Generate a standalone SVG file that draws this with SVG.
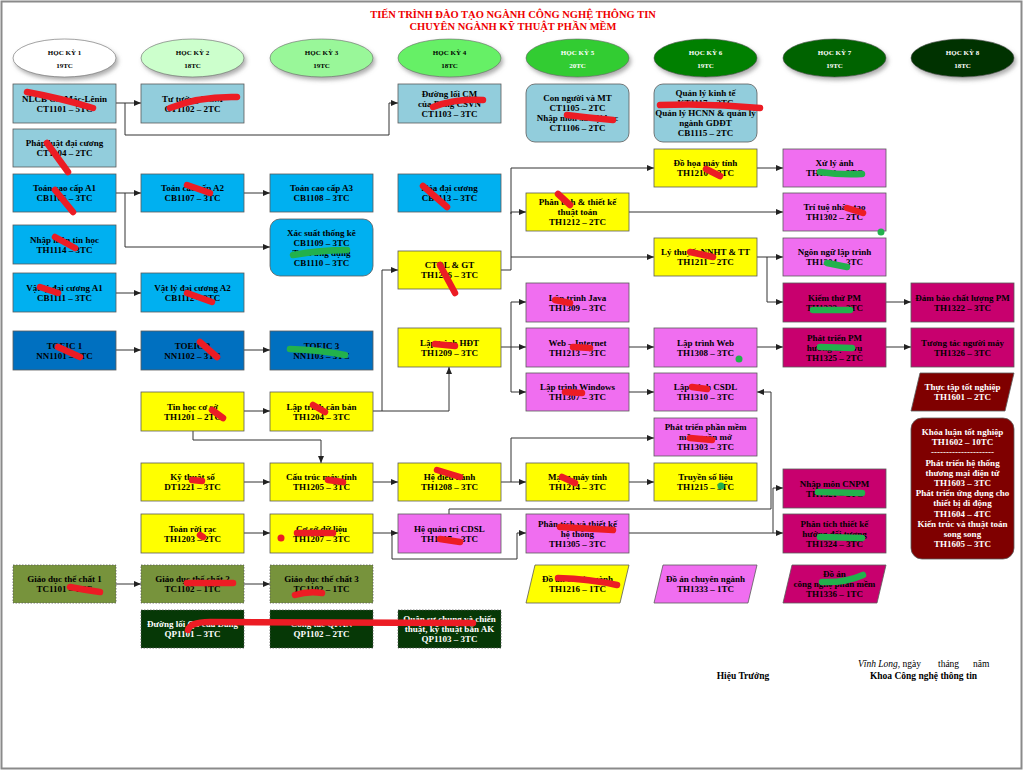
<svg xmlns="http://www.w3.org/2000/svg" width="1024" height="771" viewBox="0 0 1024 771">
<style>
.t{font-family:"Liberation Serif","Times New Roman",serif;font-weight:bold;font-size:9px;text-anchor:middle;fill:#000}
.h{font-size:7px}
.w{fill:#fff}
.bx{stroke:#5a5a5a;stroke-width:0.8}
.ct{fill:#92cddc}.cb{fill:#00b0f0}.nn{fill:#0070c0}.y{fill:#ffff00}.p{fill:#f06ef0}.m{fill:#c8006e}.dr{fill:#7f0000}.ol{fill:#77933c;stroke-dasharray:1.5 1.5}.qp{fill:#063806;stroke-dasharray:1.5 1.5}
.c{fill:none;stroke:#333;stroke-width:1;marker-end:url(#ar)}
.sr{fill:none;stroke:#ec1c24;stroke-width:6.5;stroke-linecap:round;stroke-linejoin:round}
.sg{fill:none;stroke:#22b14c;stroke-width:6.5;stroke-linecap:round;stroke-linejoin:round}
</style>
<defs>
<marker id="ar" markerUnits="userSpaceOnUse" markerWidth="7" markerHeight="6" refX="7" refY="3" orient="auto"><path d="M0,0 L7,3 L0,6 z" fill="#222"/></marker>
<filter id="sh" x="-20%" y="-20%" width="140%" height="160%"><feDropShadow dx="2" dy="3" stdDeviation="2" flood-color="#777" flood-opacity="0.6"/></filter>
</defs>
<rect x="0" y="0" width="1024" height="771" fill="#fff"/>
<rect x="1.5" y="1.5" width="1020" height="767" fill="none" stroke="#8a8a8a" stroke-width="2"/>
<g id="title" font-family="Liberation Serif, serif" font-weight="bold" font-size="10.5" fill="#e00" text-anchor="middle">
<text x="513" y="18">TIẾN TRÌNH ĐÀO TẠO NGÀNH CÔNG NGHỆ THÔNG TIN</text>
<text x="513" y="30">CHUYÊN NGÀNH KỸ THUẬT PHẦN MỀM</text>
</g>
<g id="semesters">
<g id="hk1"><ellipse cx="64.5" cy="58" rx="51.5" ry="19" fill="#fff" stroke="#666" stroke-width="0.6" filter="url(#sh)"/><text class="t h" x="64.5" y="54.5">HỌC KỲ 1</text><text class="t h" x="64.5" y="67.5">19TC</text></g>
<g id="hk2"><ellipse cx="192.5" cy="58" rx="51.5" ry="19" fill="#ccffcc" stroke="#666" stroke-width="0.6" filter="url(#sh)"/><text class="t h" x="192.5" y="54.5">HỌC KỲ 2</text><text class="t h" x="192.5" y="67.5">18TC</text></g>
<g id="hk3"><ellipse cx="321.5" cy="58" rx="51.5" ry="19" fill="#99f799" stroke="#666" stroke-width="0.6" filter="url(#sh)"/><text class="t h" x="321.5" y="54.5">HỌC KỲ 3</text><text class="t h" x="321.5" y="67.5">19TC</text></g>
<g id="hk4"><ellipse cx="449.5" cy="58" rx="51.5" ry="19" fill="#66f066" stroke="#666" stroke-width="0.6" filter="url(#sh)"/><text class="t h" x="449.5" y="54.5">HỌC KỲ 4</text><text class="t h" x="449.5" y="67.5">18TC</text></g>
<g id="hk5"><ellipse cx="577.5" cy="58" rx="51.5" ry="19" fill="#33cc33" stroke="#666" stroke-width="0.6" filter="url(#sh)"/><text class="t h w" x="577.5" y="54.5">HỌC KỲ 5</text><text class="t h w" x="577.5" y="67.5">20TC</text></g>
<g id="hk6"><ellipse cx="705.5" cy="58" rx="51.5" ry="19" fill="#008000" stroke="#555" stroke-width="0.6" filter="url(#sh)"/><text class="t h w" x="705.5" y="54.5">HỌC KỲ 6</text><text class="t h w" x="705.5" y="67.5">19TC</text></g>
<g id="hk7"><ellipse cx="834.5" cy="58" rx="51.5" ry="19" fill="#006400" stroke="#555" stroke-width="0.6" filter="url(#sh)"/><text class="t h w" x="834.5" y="54.5">HỌC KỲ 7</text><text class="t h w" x="834.5" y="67.5">19TC</text></g>
<g id="hk8"><ellipse cx="962.5" cy="58" rx="51.5" ry="19" fill="#003300" stroke="#555" stroke-width="0.6" filter="url(#sh)"/><text class="t h w" x="962.5" y="54.5">HỌC KỲ 8</text><text class="t h w" x="962.5" y="67.5">18TC</text></g>
</g>
<g id="connectors">
<path class="c" d="M116,103 H141"/>
<path class="c" d="M125,103 V135 H389 V103 H398"/>
<path class="c" d="M116,193 H141"/>
<path class="c" d="M125,193 V247 H270"/>
<path class="c" d="M244,193 H270"/>
<path class="c" d="M116,293 H141"/>
<path class="c" d="M116,350 H141"/>
<path class="c" d="M244,350 H270"/>
<path class="c" d="M244,411 H270"/>
<path class="c" d="M193,431 V440 H321 V463"/>
<path class="c" d="M372,411 H449 V367"/>
<path class="c" d="M382,411 V270 H398"/>
<path class="c" d="M501,270 H511 V212 H526"/>
<path class="c" d="M511,257 H654"/>
<path class="c" d="M511,214 V168 H654"/>
<path class="c" d="M757,168 H783"/>
<path class="c" d="M629,212 H783"/>
<path class="c" d="M757,257 H783"/>
<path class="c" d="M767,257 V302 H783"/>
<path class="c" d="M885,302 H911"/>
<path class="c" d="M501,347 H526"/>
<path class="c" d="M511,347 V302 H526"/>
<path class="c" d="M511,347 V392 H526"/>
<path class="c" d="M629,347 H654"/>
<path class="c" d="M757,347 H783"/>
<path class="c" d="M885,347 H911"/>
<path class="c" d="M629,392 H654"/>
<path class="c" d="M244,482 H270"/>
<path class="c" d="M372,482 H398"/>
<path class="c" d="M501,482 H526"/>
<path class="c" d="M511,482 V438 H654"/>
<path class="c" d="M629,482 H654"/>
<path class="c" d="M244,533 H270"/>
<path class="c" d="M372,533 H398"/>
<path class="c" d="M392,533 V559 H517 V533 H526"/>
<path class="c" d="M449,514 V509 H771 V392 H757"/>
<path class="c" d="M629,533 H783"/>
<path class="c" d="M773,533 V488 H783"/>
<path class="c" d="M116,584 H141"/>
<path class="c" d="M244,584 H270"/>
</g>
<g id="n-ct1101"><rect class="bx ct" x="13" y="84" width="103" height="39"/><text class="t" x="64.5" y="101.5">NLCB CN Mác-Lênin</text><text class="t" x="64.5" y="111.5">CT1101 – 5TC</text></g>
<g id="n-ct1102"><rect class="bx ct" x="141" y="84" width="103" height="39"/><text class="t" x="192.5" y="101.5">Tư tưởng HCM</text><text class="t" x="192.5" y="111.5">CT1102 – 2TC</text></g>
<g id="n-ct1103"><rect class="bx ct" x="398" y="84" width="103" height="39"/><text class="t" x="449.5" y="96.5">Đường lối CM</text><text class="t" x="449.5" y="106.5">của Đảng CSVN</text><text class="t" x="449.5" y="116.5">CT1103 – 3TC</text></g>
<g id="n-ct1105"><rect class="bx ct" x="526" y="84" width="103" height="58" rx="9"/><text class="t" x="577.5" y="101">Con người và MT</text><text class="t" x="577.5" y="111">CT1105 – 2TC</text><text class="t" x="577.5" y="121">Nhập môn xã hội học</text><text class="t" x="577.5" y="131">CT1106 – 2TC</text></g>
<g id="n-kt1117"><rect class="bx ct" x="654" y="84" width="103" height="58" rx="9"/><text class="t" x="705.5" y="96">Quản lý kinh tế</text><text class="t" x="705.5" y="106">KT1117 – 2TC</text><text class="t" x="705.5" y="116">Quản lý HCNN &amp; quản lý</text><text class="t" x="705.5" y="126">ngành GDĐT</text><text class="t" x="705.5" y="136">CB1115 – 2TC</text></g>
<g id="n-ct1104"><rect class="bx ct" x="13" y="129" width="103" height="38"/><text class="t" x="64.5" y="146">Pháp luật đại cương</text><text class="t" x="64.5" y="156">CT1104 – 2TC</text></g>
<g id="n-cb1106"><rect class="bx cb" x="13" y="174" width="103" height="38"/><text class="t" x="64.5" y="191">Toán cao cấp A1</text><text class="t" x="64.5" y="201">CB1106 – 3TC</text></g>
<g id="n-cb1107"><rect class="bx cb" x="141" y="174" width="103" height="38"/><text class="t" x="192.5" y="191">Toán cao cấp A2</text><text class="t" x="192.5" y="201">CB1107 – 3TC</text></g>
<g id="n-cb1108"><rect class="bx cb" x="270" y="174" width="103" height="38"/><text class="t" x="321.5" y="191">Toán cao cấp A3</text><text class="t" x="321.5" y="201">CB1108 – 3TC</text></g>
<g id="n-cb1113"><rect class="bx cb" x="398" y="174" width="103" height="38"/><text class="t" x="449.5" y="191">Hóa đại cương</text><text class="t" x="449.5" y="201">CB1113 – 3TC</text></g>
<g id="n-th1210"><rect class="bx y" x="654" y="149" width="103" height="38"/><text class="t" x="705.5" y="166">Đồ họa máy tính</text><text class="t" x="705.5" y="176">TH1210 – 3TC</text></g>
<g id="n-th1301"><rect class="bx p" x="783" y="149" width="103" height="38"/><text class="t" x="834.5" y="166">Xử lý ảnh</text><text class="t" x="834.5" y="176">TH1301 – 3TC</text></g>
<g id="n-th1212"><rect class="bx y" x="526" y="193" width="103" height="38"/><text class="t" x="577.5" y="205">Phân tích &amp; thiết kế</text><text class="t" x="577.5" y="215">thuật toán</text><text class="t" x="577.5" y="225">TH1212 – 2TC</text></g>
<g id="n-th1302"><rect class="bx p" x="783" y="193" width="103" height="38"/><text class="t" x="834.5" y="210">Trí tuệ nhân tạo</text><text class="t" x="834.5" y="220">TH1302 – 2TC</text></g>
<g id="n-cb1109"><rect class="bx cb" x="270" y="219" width="103" height="57" rx="10"/><text class="t" x="321.5" y="235.5">Xác suất thống kê</text><text class="t" x="321.5" y="245.5">CB1109 – 3TC</text><text class="t" x="321.5" y="255.5">Toán ứng dụng</text><text class="t" x="321.5" y="265.5">CB1110 – 3TC</text></g>
<g id="n-th1114"><rect class="bx cb" x="13" y="225" width="103" height="39"/><text class="t" x="64.5" y="242.5">Nhập môn tin học</text><text class="t" x="64.5" y="252.5">TH1114 – 3TC</text></g>
<g id="n-th1211"><rect class="bx y" x="654" y="238" width="103" height="38"/><text class="t" x="705.5" y="255">Lý thuyết NNHT &amp; TT</text><text class="t" x="705.5" y="265">TH1211 – 2TC</text></g>
<g id="n-th1304"><rect class="bx p" x="783" y="238" width="103" height="38"/><text class="t" x="834.5" y="255">Ngôn ngữ lập trình</text><text class="t" x="834.5" y="265">TH1304 – 3TC</text></g>
<g id="n-th1206"><rect class="bx y" x="398" y="251" width="103" height="38"/><text class="t" x="449.5" y="268">CTDL &amp; GT</text><text class="t" x="449.5" y="278">TH1206 – 3TC</text></g>
<g id="n-cb1111"><rect class="bx cb" x="13" y="273" width="103" height="39"/><text class="t" x="64.5" y="290.5">Vật lý đại cương A1</text><text class="t" x="64.5" y="300.5">CB1111 – 3TC</text></g>
<g id="n-cb1112"><rect class="bx cb" x="141" y="273" width="103" height="39"/><text class="t" x="192.5" y="290.5">Vật lý đại cương A2</text><text class="t" x="192.5" y="300.5">CB1112 – 2TC</text></g>
<g id="n-th1309"><rect class="bx p" x="526" y="283" width="103" height="39"/><text class="t" x="577.5" y="300.5">Lập trình Java</text><text class="t" x="577.5" y="310.5">TH1309 – 3TC</text></g>
<g id="n-th1323"><rect class="bx m" x="783" y="283" width="103" height="39"/><text class="t" x="834.5" y="300.5">Kiểm thử PM</text><text class="t" x="834.5" y="310.5">TH1323 – 2TC</text></g>
<g id="n-th1322"><rect class="bx m" x="911" y="283" width="103" height="39"/><text class="t" x="962.5" y="300.5">Đảm bảo chất lượng PM</text><text class="t" x="962.5" y="310.5">TH1322 – 3TC</text></g>
<g id="n-nn1101"><rect class="bx nn" x="13" y="331" width="103" height="39"/><text class="t" x="64.5" y="348.5">TOEIC 1</text><text class="t" x="64.5" y="358.5">NN1101 – 3TC</text></g>
<g id="n-nn1102"><rect class="bx nn" x="141" y="331" width="103" height="39"/><text class="t" x="192.5" y="348.5">TOEIC 2</text><text class="t" x="192.5" y="358.5">NN1102 – 3TC</text></g>
<g id="n-nn1103"><rect class="bx nn" x="270" y="331" width="103" height="39"/><text class="t" x="321.5" y="348.5">TOEIC 3</text><text class="t" x="321.5" y="358.5">NN1103 – 3TC</text></g>
<g id="n-th1209"><rect class="bx y" x="398" y="328" width="103" height="39"/><text class="t" x="449.5" y="345.5">Lập trình HĐT</text><text class="t" x="449.5" y="355.5">TH1209 – 3TC</text></g>
<g id="n-th1213"><rect class="bx p" x="526" y="328" width="103" height="39"/><text class="t" x="577.5" y="345.5">Web – Internet</text><text class="t" x="577.5" y="355.5">TH1213 – 3TC</text></g>
<g id="n-th1308"><rect class="bx p" x="654" y="328" width="103" height="39"/><text class="t" x="705.5" y="345.5">Lập trình Web</text><text class="t" x="705.5" y="355.5">TH1308 – 3TC</text></g>
<g id="n-th1325"><rect class="bx m" x="783" y="328" width="103" height="39"/><text class="t" x="834.5" y="340.5">Phát triển PM</text><text class="t" x="834.5" y="350.5">hướng dịch vụ</text><text class="t" x="834.5" y="360.5">TH1325 – 2TC</text></g>
<g id="n-th1326"><rect class="bx m" x="911" y="328" width="103" height="39"/><text class="t" x="962.5" y="345.5">Tương tác người máy</text><text class="t" x="962.5" y="355.5">TH1326 – 3TC</text></g>
<g id="n-th1307"><rect class="bx p" x="526" y="373" width="103" height="38"/><text class="t" x="577.5" y="390">Lập trình Windows</text><text class="t" x="577.5" y="400">TH1307 – 3TC</text></g>
<g id="n-th1310"><rect class="bx p" x="654" y="373" width="103" height="38"/><text class="t" x="705.5" y="390">Lập trình CSDL</text><text class="t" x="705.5" y="400">TH1310 – 3TC</text></g>
<g id="n-th1601"><polygon class="bx dr" points="920,373 1014,373 1005,411 911,411"/><text class="t w" x="962.5" y="390">Thực tập tốt nghiệp</text><text class="t w" x="962.5" y="400">TH1601 – 2TC</text></g>
<g id="n-th1201"><rect class="bx y" x="141" y="392" width="103" height="39"/><text class="t" x="192.5" y="409.5">Tin học cơ sở</text><text class="t" x="192.5" y="419.5">TH1201 – 2TC</text></g>
<g id="n-th1204"><rect class="bx y" x="270" y="392" width="103" height="39"/><text class="t" x="321.5" y="409.5">Lập trình căn bản</text><text class="t" x="321.5" y="419.5">TH1204 – 3TC</text></g>
<g id="n-th1303"><rect class="bx p" x="654" y="418" width="103" height="38"/><text class="t" x="705.5" y="430">Phát triển phần mềm</text><text class="t" x="705.5" y="440">mã nguồn mở</text><text class="t" x="705.5" y="450">TH1303 – 3TC</text></g>
<g id="n-th1602"><rect class="bx dr" x="911" y="418" width="103" height="141" rx="11"/>
<text class="t w" x="962.5" y="435">Khóa luận tốt nghiệp</text><text class="t w" x="962.5" y="445">TH1602 – 10TC</text><text class="t w" x="962.5" y="455">---------------------</text><text class="t w" x="962.5" y="466">Phát triển hệ thống</text><text class="t w" x="962.5" y="476">thương mại điện tử</text><text class="t w" x="962.5" y="486">TH1603 – 3TC</text><text class="t w" x="962.5" y="496">Phát triển ứng dụng cho</text><text class="t w" x="962.5" y="506">thiết bị di động</text><text class="t w" x="962.5" y="517">TH1604 – 4TC</text><text class="t w" x="962.5" y="527">Kiến trúc và thuật toán</text><text class="t w" x="962.5" y="537">song song</text><text class="t w" x="962.5" y="547">TH1605 – 3TC</text></g>
<g id="n-dt1221"><rect class="bx y" x="141" y="463" width="103" height="38"/><text class="t" x="192.5" y="480">Kỹ thuật số</text><text class="t" x="192.5" y="490">DT1221 – 3TC</text></g>
<g id="n-th1205"><rect class="bx y" x="270" y="463" width="103" height="38"/><text class="t" x="321.5" y="480">Cấu trúc máy tính</text><text class="t" x="321.5" y="490">TH1205 – 3TC</text></g>
<g id="n-th1208"><rect class="bx y" x="398" y="463" width="103" height="38"/><text class="t" x="449.5" y="480">Hệ điều hành</text><text class="t" x="449.5" y="490">TH1208 – 3TC</text></g>
<g id="n-th1214"><rect class="bx y" x="526" y="463" width="103" height="38"/><text class="t" x="577.5" y="480">Mạng máy tính</text><text class="t" x="577.5" y="490">TH1214 – 3TC</text></g>
<g id="n-th1215"><rect class="bx y" x="654" y="463" width="103" height="38"/><text class="t" x="705.5" y="480">Truyền số liệu</text><text class="t" x="705.5" y="490">TH1215 – 3TC</text></g>
<g id="n-th1321"><rect class="bx m" x="783" y="469" width="103" height="39"/><text class="t" x="834.5" y="486.5">Nhập môn CNPM</text><text class="t" x="834.5" y="496.5">TH1321 – 3TC</text></g>
<g id="n-th1203"><rect class="bx y" x="141" y="514" width="103" height="39"/><text class="t" x="192.5" y="531.5">Toán rời rạc</text><text class="t" x="192.5" y="541.5">TH1203 – 2TC</text></g>
<g id="n-th1207"><rect class="bx y" x="270" y="514" width="103" height="39"/><text class="t" x="321.5" y="531.5">Cơ sở dữ liệu</text><text class="t" x="321.5" y="541.5">TH1207 – 3TC</text></g>
<g id="n-th1317"><rect class="bx p" x="398" y="514" width="103" height="39"/><text class="t" x="449.5" y="531.5">Hệ quản trị CDSL</text><text class="t" x="449.5" y="541.5">TH1317 – 3TC</text></g>
<g id="n-th1305"><rect class="bx p" x="526" y="514" width="103" height="39"/><text class="t" x="577.5" y="526.5">Phân tích và thiết kế</text><text class="t" x="577.5" y="536.5">hệ thống</text><text class="t" x="577.5" y="546.5">TH1305 – 3TC</text></g>
<g id="n-th1324"><rect class="bx m" x="783" y="514" width="103" height="39"/><text class="t" x="834.5" y="526.5">Phân tích thiết kế</text><text class="t" x="834.5" y="536.5">hướng đối tượng</text><text class="t" x="834.5" y="546.5">TH1324 – 3TC</text></g>
<g id="n-tc1101"><rect class="bx ol" x="13" y="565" width="103" height="38"/><text class="t" x="64.5" y="582">Giáo dục thể chất 1</text><text class="t" x="64.5" y="592">TC1101 – 1TC</text></g>
<g id="n-tc1102"><rect class="bx ol" x="141" y="565" width="103" height="38"/><text class="t" x="192.5" y="582">Giáo dục thể chất 2</text><text class="t" x="192.5" y="592">TC1102 – 1TC</text></g>
<g id="n-tc1103"><rect class="bx ol" x="270" y="565" width="103" height="38"/><text class="t" x="321.5" y="582">Giáo dục thể chất 3</text><text class="t" x="321.5" y="592">TC1103 – 1TC</text></g>
<g id="n-th1216"><polygon class="bx y" points="535,565 629,565 620,603 526,603"/><text class="t" x="577.5" y="582">Đồ án cơ sở ngành</text><text class="t" x="577.5" y="592">TH1216 – 1TC</text></g>
<g id="n-th1333"><polygon class="bx p" points="663,565 757,565 748,603 654,603"/><text class="t" x="705.5" y="582">Đồ án chuyên ngành</text><text class="t" x="705.5" y="592">TH1333 – 1TC</text></g>
<g id="n-th1336"><polygon class="bx m" points="792,565 886,565 877,603 783,603"/><text class="t" x="834.5" y="577">Đồ án</text><text class="t" x="834.5" y="587">công nghệ phần mềm</text><text class="t" x="834.5" y="597">TH1336 – 1TC</text></g>
<g id="n-qp1101"><rect class="bx qp" x="141" y="610" width="103" height="38"/><text class="t w" x="192.5" y="627">Đường lối QS của Đảng</text><text class="t w" x="192.5" y="637">QP1101 – 3TC</text></g>
<g id="n-qp1102"><rect class="bx qp" x="270" y="610" width="103" height="38"/><text class="t w" x="321.5" y="627">Công tác QPAN</text><text class="t w" x="321.5" y="637">QP1102 – 2TC</text></g>
<g id="n-qp1103"><rect class="bx qp" x="398" y="610" width="103" height="38"/><text class="t w" x="449.5" y="622">Quân sự chung và chiến</text><text class="t w" x="449.5" y="632">thuật, kỹ thuật bắn AK</text><text class="t w" x="449.5" y="642">QP1103 – 3TC</text></g>
<g id="footer" font-family="Liberation Serif, serif" font-size="9.5" fill="#000">
<text x="858" y="667"><tspan font-style="italic">Vĩnh Long</tspan>, ngày</text>
<text x="938" y="667">tháng</text>
<text x="973" y="667">năm</text>
<text x="923.5" y="679" font-weight="bold" text-anchor="middle">Khoa Công nghệ thông tin</text>
<text x="743" y="679" font-weight="bold" text-anchor="middle">Hiệu Trưởng</text>
</g>
<g id="marks">
<path class="sr" d="M27,92 Q60,98 93,108"/>
<path class="sr" d="M170,108 Q200,96 237,97"/>
<path class="sr" d="M47,143 L68,172"/>
<path class="sr" d="M55,190 L73,212"/>
<path class="sr" d="M187,185 L210,193"/>
<path class="sr" d="M433,107 Q455,98 483,100"/>
<path class="sr" d="M567,115 Q590,118 613,120"/>
<path class="sr" d="M660,105 Q710,103 760,108"/>
<path class="sr" d="M706,169 L720,176"/>
<path class="sg" d="M820,172 Q840,175 862,174"/>
<path class="sr" d="M423,186 L447,207"/>
<path class="sr" d="M558,194 L570,205"/>
<path class="sr" d="M847,208 L863,213"/>
<path class="sg" d="M293,255 Q320,250 347,250"/>
<path class="sr" d="M55,237 L75,248"/>
<path class="sr" d="M40,287 L58,293"/>
<path class="sr" d="M187,293 L212,302"/>
<path class="sr" d="M440,265 L455,293"/>
<path class="sr" d="M690,252 L713,257"/>
<path class="sg" d="M827,263 L847,267"/>
<path class="sr" d="M555,300 L570,303"/>
<path class="sg" d="M813,310 L850,310"/>
<path class="sr" d="M58,347 L80,357"/>
<path class="sr" d="M200,342 L217,357"/>
<path class="sg" d="M290,349 Q320,350 345,355"/>
<path class="sr" d="M435,344 L455,346"/>
<path class="sr" d="M573,347 L590,348"/>
<path class="sg" d="M820,347 L852,348"/>
<path class="sr" d="M565,392 L582,393"/>
<path class="sr" d="M692,387 L707,389"/>
<path class="sr" d="M212,410 L223,418"/>
<path class="sr" d="M313,405 L325,412"/>
<path class="sr" d="M690,438 L712,440"/>
<path class="sr" d="M192,480 L202,481"/>
<path class="sr" d="M328,480 L343,482"/>
<path class="sr" d="M437,470 L460,477"/>
<path class="sr" d="M562,477 L575,483"/>
<path class="sg" d="M818,492 L862,493"/>
<path class="sr" d="M200,535 L203,537"/>
<path class="sr" d="M297,533 L333,533"/>
<path class="sr" d="M440,539 L460,542"/>
<path class="sr" d="M560,527 L613,530"/>
<path class="sg" d="M820,537 L862,538"/>
<path class="sr" d="M70,587 Q85,590 100,592"/>
<path class="sr" d="M187,583 L233,583"/>
<path class="sr" d="M295,595 Q308,591 322,593"/>
<path class="sr" d="M188,630 Q190,622 210,622 L473,623"/>
<path class="sr" d="M558,578 Q590,579 617,585"/>
<path class="sg" d="M822,582 Q845,583 863,575"/>
<circle cx="881" cy="232" r="3.5" fill="#22b14c"/>
<circle cx="739" cy="359" r="3.5" fill="#22b14c"/>
<circle cx="721" cy="486" r="3.5" fill="#22b14c"/>
<circle cx="281" cy="538" r="3.5" fill="#ec1c24"/>
</g>
</svg>
